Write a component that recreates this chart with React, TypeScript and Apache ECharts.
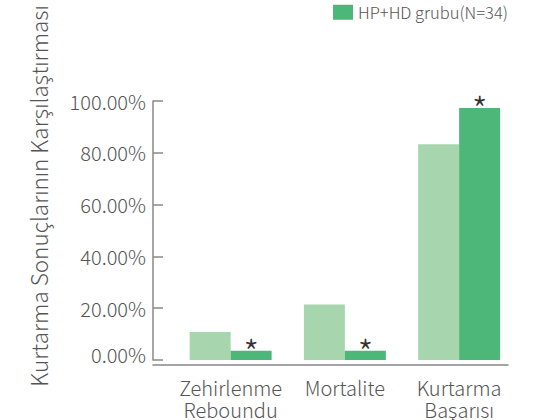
import React, { useEffect, useRef } from "react";
import * as echarts from "echarts";

const categories = ["Zehirlenme\nReboundu", "Mortalite", "Kurtarma\nBaşarısı"];
const hpValues = [10.8, 21.4, 83.3];
const hphdValues = [3.6, 3.6, 97.3];
const yTicks = [0, 20, 40, 60, 80, 100];
const hpName = "HP grubu";
const hphdName = "HP+HD grubu(N=34)";
const yTitle = "Kurtarma Sonuçlarının Karşılaştırması";

const FONT = "'Noto Sans CJK JP', 'Noto Sans', sans-serif";

export default function App() {
  const ref = useRef<HTMLDivElement>(null);
  useEffect(() => {
    if (!ref.current) return;
    const chart = echarts.init(ref.current, undefined, { renderer: "svg" });
    const top = 101;
    const bottom = 420 - 364.5;
    const barLeft = 173.5;
    const axisLeft = 153;
    chart.setOption({
      animation: false,
      textStyle: { fontFamily: FONT },
      legend: {
        data: [hphdName],
        left: 328,
        top: -1,
        itemWidth: 20,
        itemHeight: 15,
        itemGap: 6,
        textStyle: { fontSize: 16.5, color: "#555", fontFamily: FONT, fontWeight: 300 },
        icon: "rect",
      },
      graphic: [
        {
          type: "text",
          x: 38,
          y: 196,
          rotation: Math.PI / 2,
          style: {
            text: yTitle,
            fontSize: 22.5,
            fill: "#555",
            fontFamily: FONT,
            fontWeight: 300,
            align: "center",
            verticalAlign: "middle",
          },
        },
      ],
      grid: [
        { left: axisLeft, right: 47, top, bottom },
        { left: barLeft, right: 555 - 516.25, top, bottom },
      ],
      xAxis: [
        {
          gridIndex: 0,
          type: "value",
          min: 0,
          max: 1,
          axisLine: { show: true, lineStyle: { color: "#888", width: 1.5 } },
          axisTick: { show: false },
          axisLabel: { show: false },
          splitLine: { show: false },
        },
        {
          gridIndex: 1,
          type: "category",
          data: categories,
          axisLine: { show: false },
          axisTick: { show: false },
          axisLabel: {
            interval: 0,
            fontSize: 20,
            lineHeight: 22,
            color: "#555",
            margin: 16,
            fontFamily: FONT,
            fontWeight: 300,
          },
        },
      ],
      yAxis: [
        {
          gridIndex: 0,
          type: "value",
          min: 0,
          max: 100,
          show: false,
          splitLine: { show: false },
        },
        {
          gridIndex: 1,
          type: "value",
          min: yTicks[0],
          max: yTicks[yTicks.length - 1],
          interval: 20,
          offset: barLeft - axisLeft,
          axisLine: { show: true, onZero: false, lineStyle: { color: "#888", width: 1.5 } },
          axisTick: { show: true, inside: true, length: 10, lineStyle: { color: "#888", width: 1.5 } },
          axisLabel: {
            fontSize: 20,
            color: "#555",
            margin: 7,
            fontFamily: FONT,
            fontWeight: 300,
            formatter: (v: number) => (v === 0 ? `{z|${v.toFixed(2)}%}` : `${v.toFixed(2)}%`),
            rich: {
              z: { fontSize: 20, color: "#555", fontFamily: FONT, fontWeight: 300, padding: [0, 0, 12, 0] },
            },
          },
          splitLine: { show: false },
        },
      ],
      series: [
        {
          name: hpName,
          type: "bar",
          xAxisIndex: 1,
          yAxisIndex: 1,
          data: hpValues,
          barWidth: 41,
          barGap: "0%",
          itemStyle: { color: "#a7d5ad" },
        },
        {
          name: hphdName,
          type: "bar",
          xAxisIndex: 1,
          yAxisIndex: 1,
          data: hphdValues,
          barWidth: 41,
          barGap: "0%",
          itemStyle: { color: "#4cb778" },
          label: {
            show: true,
            position: "top",
            distance: -18,
            formatter: "*",
            fontSize: 36,
            fontWeight: 300,
            color: "#333",
            fontFamily: FONT,
          },
        },
      ],
    });
    return () => chart.dispose();
  }, []);
  return (
    <div
      ref={ref}
      style={{ position: "fixed", left: 0, top: 0, width: 555, height: 420, background: "#fff" }}
    />
  );
}
